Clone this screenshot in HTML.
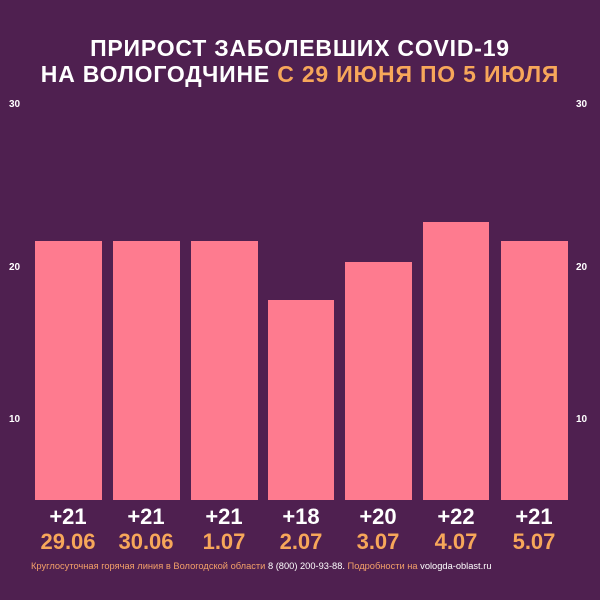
<!DOCTYPE html>
<html><head><meta charset="utf-8"><style>
body{margin:0;width:600px;height:600px;background:#4f2050;position:relative;overflow:hidden;font-family:"Liberation Sans",sans-serif;}
.t{position:absolute;left:0;width:600px;text-align:center;color:#fff;font-weight:bold;font-size:23px;letter-spacing:0.8px;}
.o{color:#f7a75a}
.tick{position:absolute;color:#fff;font-size:10px;font-weight:bold;}
.bar{position:absolute;background:#fe7b8f;bottom:100px;}
.lab{position:absolute;width:80px;text-align:center;font-weight:bold;font-size:22px;}
.foot{position:absolute;left:31px;white-space:nowrap;top:561px;font-size:9.3px;color:#f3a069;}
</style></head><body>
<div class="t" style="top:35px">ПРИРОСТ ЗАБОЛЕВШИХ COVID-19</div>
<div class="t" style="top:61px">НА ВОЛОГОДЧИНЕ <span class="o">С 29 ИЮНЯ ПО 5 ИЮЛЯ</span></div>
<div class="tick" style="left:9px;top:99px">30</div><div class="tick" style="left:576px;top:99px">30</div>
<div class="tick" style="left:9px;top:262px">20</div><div class="tick" style="left:576px;top:262px">20</div>
<div class="tick" style="left:9px;top:414px">10</div><div class="tick" style="left:576px;top:414px">10</div>
<div class="bar" style="left:35px;width:67px;top:241px"></div>
<div class="bar" style="left:113px;width:67px;top:241px"></div>
<div class="bar" style="left:191px;width:67px;top:241px"></div>
<div class="bar" style="left:268px;width:66px;top:300px"></div>
<div class="bar" style="left:345px;width:67px;top:262px"></div>
<div class="bar" style="left:423px;width:66px;top:222px"></div>
<div class="bar" style="left:501px;width:67px;top:241px"></div>
<div class="lab" style="left:28px;top:504px;color:#fff">+21</div>
<div class="lab" style="left:106px;top:504px;color:#fff">+21</div>
<div class="lab" style="left:184px;top:504px;color:#fff">+21</div>
<div class="lab" style="left:261px;top:504px;color:#fff">+18</div>
<div class="lab" style="left:338px;top:504px;color:#fff">+20</div>
<div class="lab" style="left:416px;top:504px;color:#fff">+22</div>
<div class="lab" style="left:494px;top:504px;color:#fff">+21</div>
<div class="lab o" style="left:28px;top:529px">29.06</div>
<div class="lab o" style="left:106px;top:529px">30.06</div>
<div class="lab o" style="left:184px;top:529px">1.07</div>
<div class="lab o" style="left:261px;top:529px">2.07</div>
<div class="lab o" style="left:338px;top:529px">3.07</div>
<div class="lab o" style="left:416px;top:529px">4.07</div>
<div class="lab o" style="left:494px;top:529px">5.07</div>
<div class="foot">Круглосуточная горячая линия в Вологодской области <span style="color:#fff">8 (800) 200-93-88.</span> Подробности на <span style="color:#fff">vologda-oblast.ru</span></div>
</body></html>
